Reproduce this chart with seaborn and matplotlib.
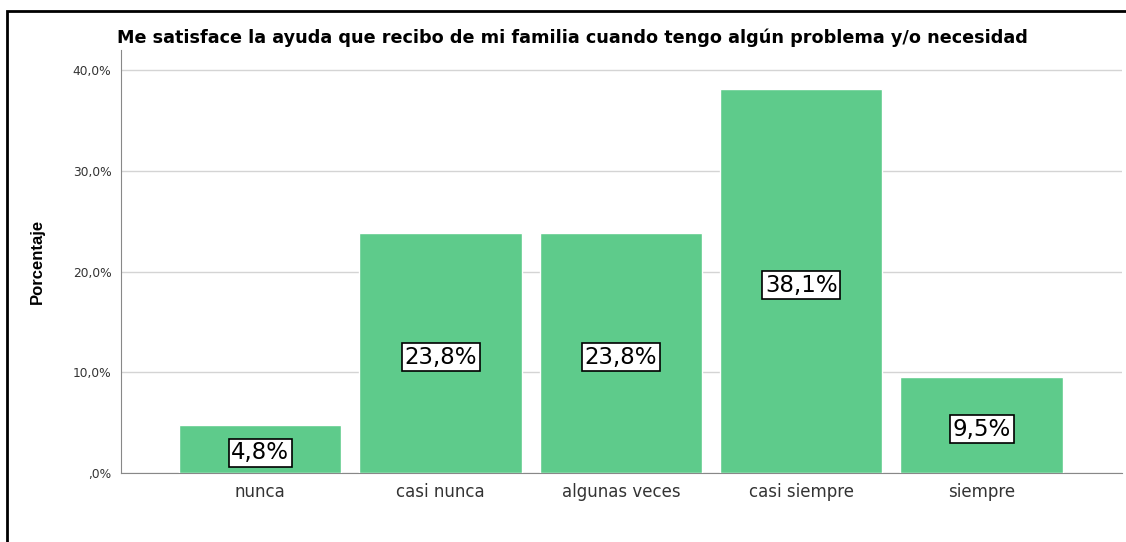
import numpy as np
import pandas as pd
import seaborn as sns
import matplotlib.pyplot as plt
from matplotlib.patches import Rectangle

# Data
categorias = ['nunca', 'casi nunca', 'algunas veces', 'casi siempre', 'siempre']
porcentajes = [4.8, 23.8, 23.8, 38.1, 9.5]
etiquetas = ['4,8%', '23,8%', '23,8%', '38,1%', '9,5%']
ticks_y = [0, 10, 20, 30, 40]
ticks_y_labels = [',0%', '10,0%', '20,0%', '30,0%', '40,0%']

titulo = 'Me satisface la ayuda que recibo de mi familia cuando tengo algún problema y/o necesidad'
bar_color = '#5ECB8B'

sns.set_style('white')
plt.rcParams['font.family'] = ['DejaVu Sans']

df = pd.DataFrame({'categoria': categorias, 'porcentaje': porcentajes})

fig = plt.figure(figsize=(11.26, 5.42), dpi=100)
ax = fig.add_axes([0.1075, 0.1273, 0.8889, 0.7804])

sns.barplot(data=df, x='categoria', y='porcentaje', color=bar_color,
            saturation=1, width=0.9, ax=ax, zorder=3)

# Gridlines and axes styling
ax.set_ylim(0, 42)
ax.set_xlim(-0.772, 4.778)
ax.set_yticks(ticks_y)
ax.set_yticklabels(ticks_y_labels, fontsize=8.8, color='#333333')
ax.yaxis.grid(True, color='#d4d4d4', linewidth=1.0, zorder=0)
ax.tick_params(axis='x', labelsize=12, colors='#333333', length=0, pad=7)
ax.tick_params(axis='y', length=4, color='#888888', pad=3)
for side in ['top', 'right']:
    ax.spines[side].set_visible(False)
ax.spines['left'].set_color('#888888')
ax.spines['bottom'].set_color('#888888')
ax.set_xlabel('')
ax.set_ylabel('Porcentaje', fontsize=12, fontweight='bold', color='black',
              family=['Liberation Sans Narrow', 'Liberation Sans', 'DejaVu Sans'], labelpad=20)

# Boxed labels in the middle of each bar
for i, (val, lab) in enumerate(zip(porcentajes, etiquetas)):
    ax.text(i, val / 2 - 0.4, lab, ha='center', va='center', fontsize=16.5, color='black', zorder=5,
            bbox=dict(boxstyle='square,pad=0.12', facecolor='white', edgecolor='black', linewidth=1.2))

fig.text(0.104, 0.93, titulo, fontsize=12.7, fontweight='bold', color='black', ha='left', va='center')

# Outer frame
fig.patches.append(Rectangle((0.0062, -0.1), 1.1, 1.0797, transform=fig.transFigure,
                             fill=False, edgecolor='black', linewidth=2))

fig.savefig('out.png', dpi=100)
